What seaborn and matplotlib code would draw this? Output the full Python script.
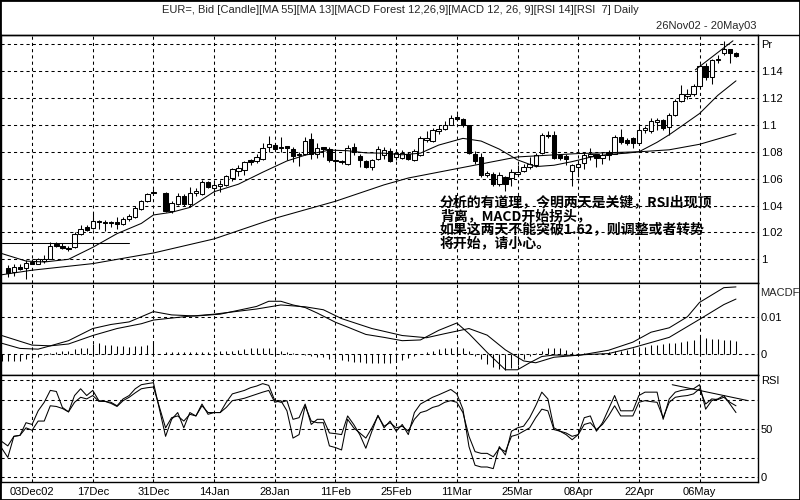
import numpy as np
import pandas as pd
import matplotlib
matplotlib.use("Agg")
import matplotlib.pyplot as plt
import matplotlib.transforms as mtransforms
from matplotlib.lines import Line2D
from matplotlib.patches import Rectangle
import seaborn as sns

sns.set_style("white")
plt.rcParams['font.family'] = ['Liberation Sans', 'Noto Sans CJK SC', 'DejaVu Sans']

nan = np.nan
dates = pd.bdate_range("2002-11-26", periods=122)

open_ = [nan, 0.9937, 0.9903, 0.9944, 0.9939, 0.9982, 0.9964, 0.9987, 1.0005, 1.0114,
         1.0102, 1.0086, 1.0089, 1.0191, 1.0239, 1.0234, 1.0284, 1.0279, 1.0277, 1.0277,
         1.0262, 1.0297, 1.0318, 1.0376, 1.0432, 1.0498, nan, 1.0490, 1.0361, 1.0414,
         1.0470, 1.0414, 1.0495, 1.0483, 1.0579, 1.0533, 1.0546, 1.0551, 1.0605, 1.0655,
         1.0668, 1.0737, 1.0732, 1.0747, 1.0838, 1.0853, 1.0838, 1.0843, 1.0818, 1.0787,
         1.0787, 1.0894, 1.0787, 1.0838, 1.0818, 1.0737, 1.0734, 1.0711, 1.0833, 1.0767,
         1.0729, 1.0686, 1.0749, 1.0775, 1.0808, 1.0762, 1.0757, 1.0787, 1.0742, 1.0775,
         1.0889, 1.0884, 1.0955, 1.0970, 1.1003, 1.1059, 1.1046, 1.0996, 1.0787, 1.0762,
         1.0627, 1.0635, 1.0559, 1.0610, 1.0605, 1.0635, 1.0660, 1.0686, 1.0699, 1.0792,
         1.0927, 1.0927, 1.0775, 1.0767, 1.0660, 1.0686, 1.0719, 1.0770, 1.0780, 1.0754,
         1.0795, 1.0787, 1.0907, 1.0889, 1.0902, 1.0864, 1.0965, 1.0953, 1.1024, 1.1034,
         1.0983, 1.1074, 1.1181, 1.1219, 1.1227, 1.1288, 1.1440, 1.1359, 1.1481, 1.1532,
         1.1562, 1.1537]
high = [nan, 0.9954, 0.9967, 0.9962, 0.9992, 1.0000, 1.0013, 1.0030, 1.0132, 1.0127,
        1.0122, 1.0097, 1.0203, 1.0259, 1.0259, 1.0343, 1.0290, 1.0292, 1.0284, 1.0318,
        1.0318, 1.0335, 1.0394, 1.0445, 1.0495, 1.0521, nan, 1.0500, 1.0432, 1.0495,
        1.0483, 1.0538, 1.0528, 1.0589, 1.0584, 1.0584, 1.0589, 1.0630, 1.0681, 1.0699,
        1.0732, 1.0749, 1.0782, 1.0864, 1.0914, 1.0864, 1.0907, 1.0843, 1.0838, 1.0800,
        1.0907, 1.0940, 1.0864, 1.0838, 1.0838, 1.0800, 1.0737, 1.0851, 1.0864, 1.0787,
        1.0742, 1.0749, 1.0843, 1.0838, 1.0826, 1.0813, 1.0813, 1.0800, 1.0818, 1.0914,
        1.0953, 1.0978, 1.1000, 1.1029, 1.1072, 1.1080, 1.1054, 1.1003, 1.0805, 1.0792,
        1.0660, 1.0648, 1.0648, 1.0622, 1.0673, 1.0699, 1.0711, 1.0762, 1.0792, 1.0940,
        1.0953, 1.0953, 1.0787, 1.0787, 1.0711, 1.0737, 1.0800, 1.0831, 1.0787, 1.0800,
        1.0813, 1.0922, 1.0973, 1.0902, 1.0907, 1.1008, 1.0991, 1.1054, 1.1054, 1.1041,
        1.1092, 1.1194, 1.1295, 1.1270, 1.1308, 1.1455, 1.1461, 1.1491, 1.1524, 1.1626,
        1.1562, 1.1542]
low = [nan, 0.9868, 0.9878, 0.9924, 0.9853, 0.9962, 0.9962, 0.9975, 1.0000, 1.0089,
       1.0076, 1.0064, 1.0081, 1.0178, 1.0208, 1.0224, 1.0229, 1.0208, 1.0241, 1.0224,
       1.0254, 1.0284, 1.0310, 1.0368, 1.0424, 1.0483, nan, 1.0351, 1.0343, 1.0406,
       1.0399, 1.0386, 1.0470, 1.0478, 1.0533, 1.0503, 1.0503, 1.0546, 1.0584, 1.0622,
       1.0630, 1.0699, 1.0716, 1.0737, 1.0800, 1.0813, 1.0800, 1.0737, 1.0724, 1.0691,
       1.0775, 1.0749, 1.0757, 1.0762, 1.0724, 1.0660, 1.0706, 1.0699, 1.0775, 1.0686,
       1.0678, 1.0665, 1.0737, 1.0749, 1.0724, 1.0742, 1.0749, 1.0742, 1.0732, 1.0767,
       1.0876, 1.0876, 1.0935, 1.0965, 1.0996, 1.1029, 1.0986, 1.0787, 1.0711, 1.0610,
       1.0610, 1.0546, 1.0546, 1.0508, 1.0546, 1.0622, 1.0648, 1.0673, 1.0686, 1.0787,
       1.0902, 1.0749, 1.0737, 1.0699, 1.0546, 1.0622, 1.0673, 1.0737, 1.0686, 1.0711,
       1.0737, 1.0780, 1.0856, 1.0851, 1.0826, 1.0856, 1.0940, 1.0940, 1.0965, 1.0965,
       1.0927, 1.1067, 1.1168, 1.1194, 1.1212, 1.1283, 1.1334, 1.1308, 1.1461, 1.1524,
       1.1461, 1.1506]
close = [nan, 0.9898, 0.9944, 0.9929, 0.9970, 0.9967, 1.0000, 1.0000, 1.0097, 1.0102,
         1.0086, 1.0076, 1.0191, 1.0229, 1.0221, 1.0282, 1.0274, 1.0272, 1.0269, 1.0264,
         1.0297, 1.0323, 1.0381, 1.0432, 1.0488, 1.0490, nan, 1.0361, 1.0419, 1.0470,
         1.0411, 1.0495, 1.0508, 1.0577, 1.0538, 1.0551, 1.0559, 1.0622, 1.0673, 1.0681,
         1.0724, 1.0724, 1.0762, 1.0826, 1.0856, 1.0823, 1.0831, 1.0826, 1.0772, 1.0775,
         1.0881, 1.0787, 1.0831, 1.0823, 1.0737, 1.0729, 1.0727, 1.0831, 1.0795, 1.0737,
         1.0686, 1.0742, 1.0818, 1.0813, 1.0732, 1.0792, 1.0792, 1.0749, 1.0808, 1.0902,
         1.0902, 1.0965, 1.0968, 1.1003, 1.1054, 1.1041, 1.1003, 1.0792, 1.0732, 1.0627,
         1.0640, 1.0559, 1.0627, 1.0559, 1.0648, 1.0648, 1.0686, 1.0711, 1.0775, 1.0927,
         1.0914, 1.0757, 1.0754, 1.0749, 1.0699, 1.0711, 1.0775, 1.0787, 1.0754, 1.0775,
         1.0775, 1.0907, 1.0871, 1.0869, 1.0869, 1.0965, 1.0978, 1.1029, 1.1034, 1.0978,
         1.1074, 1.1181, 1.1232, 1.1232, 1.1288, 1.1440, 1.1354, 1.1481, 1.1491, 1.1562,
         1.1532, 1.1511]

# moving averages (day index, value)
ma13_day = [0, 4, 7, 11, 15, 19, 23, 25, 28, 31, 35, 39, 43, 47, 50, 54, 57, 60, 63, 66,
            69, 72, 76, 79, 82, 85, 88, 91, 94, 97, 100, 103, 105, 108, 110, 112, 115, 118, 121]
ma13_val = [1.0043, 0.9987, 0.9980, 1.0000, 1.0089, 1.0191, 1.0267, 1.0330, 1.0350, 1.0386,
            1.0503, 1.0559, 1.0648, 1.0732, 1.0775, 1.0813, 1.0808, 1.0792, 1.0790, 1.0778,
            1.0790, 1.0850, 1.0900, 1.0880, 1.0820, 1.0740, 1.0690, 1.0700, 1.0727, 1.0760,
            1.0781, 1.0790, 1.0800, 1.0871, 1.0927, 1.0990, 1.1085, 1.1220, 1.1328]
ma55_day = [0, 5, 15, 25, 31, 35, 45, 55, 63, 67, 85, 95, 105, 110, 115, 121]
ma55_val = [0.9885, 0.9919, 0.9968, 1.0047, 1.0110, 1.0152, 1.0305, 1.0432, 1.0554, 1.0605,
            1.0762, 1.0787, 1.0800, 1.0815, 1.0856, 1.0935]

# drawn annotation lines
support_day = [0, 21]
support_val = [1.0122, 1.0122]
trend_day = [114.3, 120.5]
trend_val = [1.141, 1.1626]
rsi_trend_day = [110.5, 123]
rsi_trend_val = [95.6, 79.1]

# MACD lines (day index, value)
macd_day = [0, 3, 6, 8, 11, 15, 18, 21, 25, 28, 32, 36, 42, 44, 46, 48, 50, 52, 55, 57, 60,
            63, 66, 69, 72, 75, 77, 80, 83, 85, 87, 89, 91, 95, 100, 104, 107, 110, 113, 115,
            119, 121]
macd_val = [0.0028, 0.0014, 0.0012, 0.0021, 0.0035, 0.0068, 0.0079, 0.0086, 0.0114, 0.0105,
            0.0102, 0.0107, 0.0128, 0.0142, 0.0142, 0.0132, 0.0125, 0.0110, 0.0085, 0.0072,
            0.0052, 0.0044, 0.0035, 0.0037, 0.0063, 0.0083, 0.0054, 0.0003, -0.0044, -0.0044,
            -0.0025, -0.0008, -0.0004, -0.0005, 0.0009, 0.0031, 0.0058, 0.0070, 0.0100, 0.0139,
            0.0179, 0.0181]
signal_day = [0, 5, 8, 11, 15, 19, 23, 25, 30, 35, 42, 46, 50, 53, 56, 61, 66, 70, 73, 77,
              80, 83, 86, 88, 91, 96, 100, 104, 110, 115, 119, 121]
signal_val = [0.0049, 0.0023, 0.0021, 0.0026, 0.0049, 0.0068, 0.0081, 0.0091, 0.0100, 0.0107,
              0.0121, 0.0132, 0.0127, 0.0119, 0.0095, 0.0068, 0.0049, 0.0043, 0.0054, 0.0068,
              0.0050, 0.0010, -0.0020, -0.0025, -0.0010, -0.0003, 0.0000, 0.0016, 0.0044,
              0.0093, 0.0133, 0.0148]
macd_forest = [-0.0020, -0.0020, -0.0020, -0.0019, -0.0016, -0.0012, -0.0008, -0.0004,
               0.0001, 0.0003,
               0.0006, 0.0008, 0.0012, 0.0014, 0.0015, 0.0026, 0.0028, 0.0024, 0.0023, 0.0021,
               0.0021, 0.0019, 0.0021, 0.0021, 0.0024, 0.0035,
               nan, 0.0004, 0.0003, 0.0003, 0.0004, 0.0004,
               0.0004, 0.0003, 0.0003, 0.0004, 0.0006, 0.0006, 0.0008, 0.0010, 0.0012,
               0.0014, 0.0015, 0.0016, 0.0016, 0.0014,
               0.0008, 0.0004, 0.0001, -0.0002, -0.0004, -0.0006, -0.0008, -0.0010,
               -0.0014, -0.0016, -0.0018, -0.0020, -0.0022, -0.0024, -0.0025, -0.0026, -0.0026,
               -0.0026, -0.0025, -0.0022, -0.0018,
               -0.0012, -0.0006, -0.0002,
               0.0004, 0.0008, 0.0012, 0.0014, 0.0016, 0.0018, 0.0014, 0.0008,
               -0.0006, -0.0016, -0.0028, -0.0036, -0.0042, -0.0044, -0.0040, -0.0030,
               -0.0016, -0.0006, 0.0002, 0.0008,
               0.0014, 0.0016, 0.0014, 0.0010,
               0.0004, 0.0002, 0.0001, -0.0001, -0.0001, 0.0001, 0.0003,
               0.0006, 0.0008, 0.0010, 0.0014, 0.0016, 0.0018, 0.0022, 0.0024, 0.0026, 0.0028,
               0.0030, 0.0032, 0.0034, 0.0038, 0.0044, 0.0042, 0.0040, 0.0040, 0.0038, 0.0036,
               0.0034]

rsi7 = [36.9, 32.3, 42.2, 43.2, 56.3, 54.5, 68.6, 77.4, 89.7, 88.6,
        72.1, 67.5, 84.4, 91.4, 84.4, 89.7, 79.1, 78.4, 77.4, 73.8,
        80.9, 84.4, 91.4, 95.6, 96.7, 97.7, nan, 42.2, 59.8, 66.8,
        51.0, 66.8, 63.3, 75.6, 65.0, 66.8, 66.8, 77.4, 86.1, 87.9,
        89.7, 92.5, 94.2, 96.7, 94.9, 79.1, 77.4, 79.1, 59.8, 61.5,
        75.6, 54.5, 59.8, 59.8, 45.7, 45.0, 44.0, 63.3, 54.5, 44.0,
        29.9, 47.5, 64.0, 51.0, 58.0, 47.5, 54.5, 44.0, 66.8, 75.6,
        79.1, 82.6, 85.1, 87.9, 90.7, 86.1, 70.3, 31.6, 12.3, 10.5,
        10.5, 8.8, 31.6, 22.9, 47.5, 51.0, 52.7, 61.5, 73.8, 87.9,
        80.9, 51.0, 47.5, 45.7, 42.2, 44.0, 61.5, 63.3, 47.5, 56.3,
        70.3, 84.4, 68.6, 68.6, 68.6, 84.4, 87.9, 87.9, 87.9, 59.8,
        80.9, 87.9, 89.7, 90.7, 91.4, 95.6, 70.3, 79.1, 80.9, 84.4,
        75.6, 66.8]
rsi14 = [29.9, 20.4, 42.2, 43.2, 51.0, 48.5, 58.0, 58.0, 73.8, 73.1,
         71.0, 67.5, 77.4, 82.6, 80.9, 84.4, 78.4, 78.4, 76.3, 73.1,
         79.1, 82.6, 87.2, 91.4, 92.5, 93.2, nan, 51.0, 61.5, 63.3,
         58.0, 65.0, 63.3, 73.8, 66.8, 66.8, 66.8, 72.1, 79.1, 80.2,
         81.6, 83.7, 85.8, 87.9, 89.7, 77.4, 79.1, 68.6, 40.4, 44.0,
         73.8, 58.0, 56.3, 56.3, 32.3, 30.6, 28.1, 59.8, 51.0, 45.7,
         40.4, 51.0, 63.3, 52.7, 56.3, 51.0, 52.7, 47.5, 59.8, 66.8,
         68.6, 72.1, 73.8, 77.4, 79.1, 77.4, 66.8, 42.2, 26.4, 24.6,
         24.6, 21.1, 29.9, 26.4, 42.2, 44.0, 47.5, 51.0, 61.5, 70.3,
         68.6, 49.2, 47.5, 44.0, 38.7, 44.0, 54.5, 56.3, 49.2, 54.5,
         63.3, 73.8, 63.3, 63.3, 63.3, 77.4, 79.1, 78.1, 77.4, 61.5,
         77.4, 82.6, 83.7, 84.4, 86.1, 91.4, 75.6, 80.9, 80.2, 82.6,
         77.4, 73.8]

tick_dates = ["2002-12-03", "2002-12-17", "2002-12-31", "2003-01-14", "2003-01-28",
              "2003-02-11", "2003-02-25", "2003-03-11", "2003-03-25", "2003-04-08",
              "2003-04-22", "2003-05-06"]
tick_labels = ["03Dec02", "17Dec", "31Dec", "14Jan", "28Jan", "11Feb", "25Feb",
               "11Mar", "25Mar", "08Apr", "22Apr", "06May"]

price_ticks = [1.00, 1.02, 1.04, 1.06, 1.08, 1.10, 1.12, 1.14, 1.16]
price_labels = ["1", "1.02", "1.04", "1.06", "1.08", "1.1", "1.12", "1.14", "Pr"]
macd_ticks = [0.0, 0.01]
macd_labels = ["0", "0.01"]
rsi_ticks = [0, 20, 50, 80, 100]
rsi_labels = ["0", "", "50", "", "RSI"]

title = "EUR=, Bid [Candle][MA 55][MA 13][MACD Forest 12,26,9][MACD 12, 26, 9][RSI 14][RSI  7] Daily"
period = "26Nov02 - 20May03"
note_lines = ["分析的有道理，今明两天是关键，RSI出现顶",
              "背离，MACD开始拐头，",
              "如果这两天不能突破1.62，则调整或者转势",
              "将开始，请小心。"]

# ---------------------------------------------------------------- layout
W, H = 791.0, 489.0
fig = plt.figure(figsize=(8, 5), dpi=100)
fig.patch.set_facecolor("white")

def fx(px):
    return px / W

def fy(py):
    return 1 - py / H

left, right = fx(1), fx(749)
ax_p = fig.add_axes([left, fy(277), right - left, fy(34) - fy(277)])
ax_m = fig.add_axes([left, fy(366.5), right - left, fy(277) - fy(366.5)])
ax_r = fig.add_axes([left, fy(471), right - left, fy(366.5) - fy(471)])

x = np.arange(len(dates))
o = np.array(open_); h = np.array(high); l = np.array(low); c = np.array(close)
valid = ~np.isnan(o)
up = valid & (c >= o)
dn = valid & (c < o)

grid_kw = dict(color="black", linestyle=(0, (3, 3)), linewidth=0.75)
date_idx = [int(np.where(dates == pd.Timestamp(d))[0][0]) for d in tick_dates]

# price panel
ax_p.vlines(x[valid], l[valid], h[valid], color="black", lw=0.75, zorder=3)
ax_p.bar(x[up], np.maximum(c - o, 0.00025)[up], bottom=o[up], width=0.72,
         color="white", edgecolor="black", linewidth=0.75, zorder=4)
ax_p.bar(x[dn], (o - c)[dn], bottom=c[dn], width=0.72,
         color="black", edgecolor="black", linewidth=0.75, zorder=4)
sns.lineplot(x=ma13_day, y=ma13_val, ax=ax_p, color="black", lw=0.75, zorder=5)
sns.lineplot(x=ma55_day, y=ma55_val, ax=ax_p, color="black", lw=0.75, zorder=5)
sns.lineplot(x=support_day, y=support_val, ax=ax_p, color="black", lw=0.75, zorder=5)
sns.lineplot(x=trend_day, y=trend_val, ax=ax_p, color="black", lw=0.75, zorder=5)
ax_p.set_ylim(0.9822, 1.1671)
ax_p.set_yticks(price_ticks)
ax_p.set_yticklabels(price_labels)

# MACD panel
mf = np.array(macd_forest)
mv = ~np.isnan(mf)
ax_m.vlines(x[mv], 0, mf[mv], color="black", lw=0.75, zorder=3)
sns.lineplot(x=macd_day, y=macd_val, ax=ax_m, color="black", lw=0.75, zorder=5)
sns.lineplot(x=signal_day, y=signal_val, ax=ax_m, color="black", lw=0.75, zorder=5)
ax_m.set_ylim(-0.00575, 0.0191)
ax_m.set_yticks(macd_ticks)
ax_m.set_yticklabels(macd_labels)

# RSI panel
r7 = np.array(rsi7); r14 = np.array(rsi14)
rv = ~np.isnan(r7)
sns.lineplot(x=x[rv], y=r7[rv], ax=ax_r, color="black", lw=0.75, zorder=5)
sns.lineplot(x=x[rv], y=r14[rv], ax=ax_r, color="black", lw=0.75, zorder=5)
sns.lineplot(x=rsi_trend_day, y=rsi_trend_val, ax=ax_r, color="black", lw=0.75, zorder=5)
ax_r.set_ylim(-4.6, 105.9)
ax_r.set_yticks(rsi_ticks)
ax_r.set_yticklabels(rsi_labels)

for ax in (ax_p, ax_m, ax_r):
    ax.set_xlim(-0.12, 124.55)
    ax.set_xticks(date_idx)
    ax.set_xlabel("")
    ax.set_ylabel("")
    ax.yaxis.tick_right()
    ax.set_axisbelow(True)
    ax.grid(True, **grid_kw)
    ax.tick_params(axis="both", length=0, labelsize=8, colors="black", pad=2.5)
    for sp in ax.spines.values():
        sp.set_visible(True)
        sp.set_color("black")
        sp.set_linewidth(1.0)
    ax.set_facecolor("white")

ax_p.set_xticklabels([])
ax_m.set_xticklabels([])
ax_r.set_xticklabels(tick_labels)
ax_r.tick_params(axis="x", pad=4)

trans_m = mtransforms.blended_transform_factory(ax_m.transAxes, ax_m.transData)
ax_m.text(1.004, 0.0164, "MACDF", transform=trans_m, ha="left", va="center", fontsize=8)

fig.text(0.5, fy(10), title, ha="center", va="center", fontsize=8)
fig.text(fx(748), fy(25), period, ha="right", va="center", fontsize=8)

for k, (line, yc) in enumerate(zip(note_lines, [197.5, 211, 224.5, 238])):
    fig.text(fx(435), fy(yc), line, ha="left", va="center", fontsize=10,
             fontweight="bold", family=["Noto Sans CJK SC", "DejaVu Sans"], color="black")

fig.add_artist(Line2D([0, 1], [fy(34), fy(34)], transform=fig.transFigure, color="black", lw=1.0))
fig.add_artist(Rectangle((0, 0), 1, 1, transform=fig.transFigure, fill=False,
                         edgecolor="black", lw=2.0))

fig.savefig("out.png", dpi=100, facecolor="white")
